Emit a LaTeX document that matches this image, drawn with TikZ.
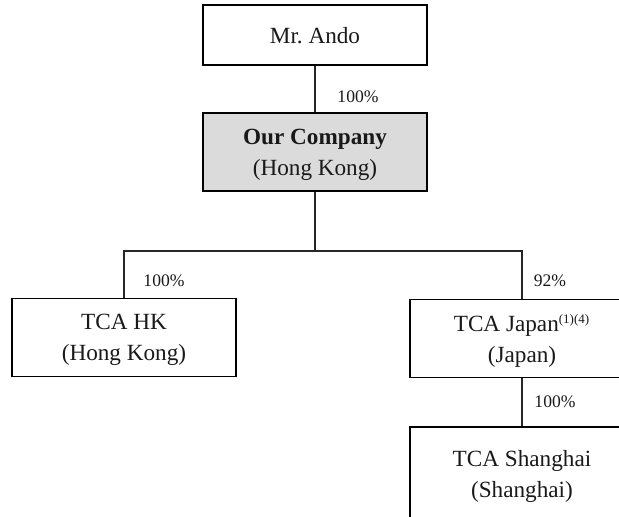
\documentclass[tikz,border=0pt]{standalone}
\usepackage{fontspec}
\setmainfont{Liberation Serif}
\usepackage{tikz}
\usetikzlibrary{positioning,calc}

\begin{document}
\begin{tikzpicture}[
    x=0.5pt, y=-0.5pt,
    box/.style={draw, line width=0.6pt, minimum width=112pt, minimum height=39pt, inner sep=0pt, text depth=0pt, align=center, font=\fontsize{11.6}{15.5}\selectfont, text=black!90},
    pct/.style={font=\fontsize{8.8}{10}\selectfont, text=black!90, inner sep=0pt},
    link/.style={line width=0.6pt, draw=black!85}
]
\useasboundingbox (0,0) rectangle (619,516);
\clip (0,0) rectangle (619,516);

\node[box, minimum height=30pt] (ando) at (315,35) {Mr.\ Ando};
\node[box, fill=black!14] (ourco) at (315,152) {\textbf{Our Company}\\(Hong Kong)};
\node[box] (tcahk) at (124,337.5) {TCA HK\\(Hong Kong)};
\node[box] (tcajp) at (522,338.5) {TCA Japan\textsuperscript{\fontsize{6.5}{7}\selectfont(1)(4)}\\(Japan)};
\node[box, minimum height=47pt] (tcash) at (522,474) {TCA Shanghai\\(Shanghai)};

\coordinate (bus) at (315,251);

\draw[link] (ando) -- (ourco);
\draw[link] (ourco) -- (bus);
\draw[link] (bus) -| (tcahk.north);
\draw[link] (bus) -| (tcajp.north);
\draw[link] (tcajp) -- (tcash);

\node[pct] (p1) at (358,97) {100\%};
\node[pct] (p2) at (164,281) {100\%};
\node[pct] (p3) at (550,281) {92\%};
\node[pct] (p4) at (555,402) {100\%};
\end{tikzpicture}
\end{document}
